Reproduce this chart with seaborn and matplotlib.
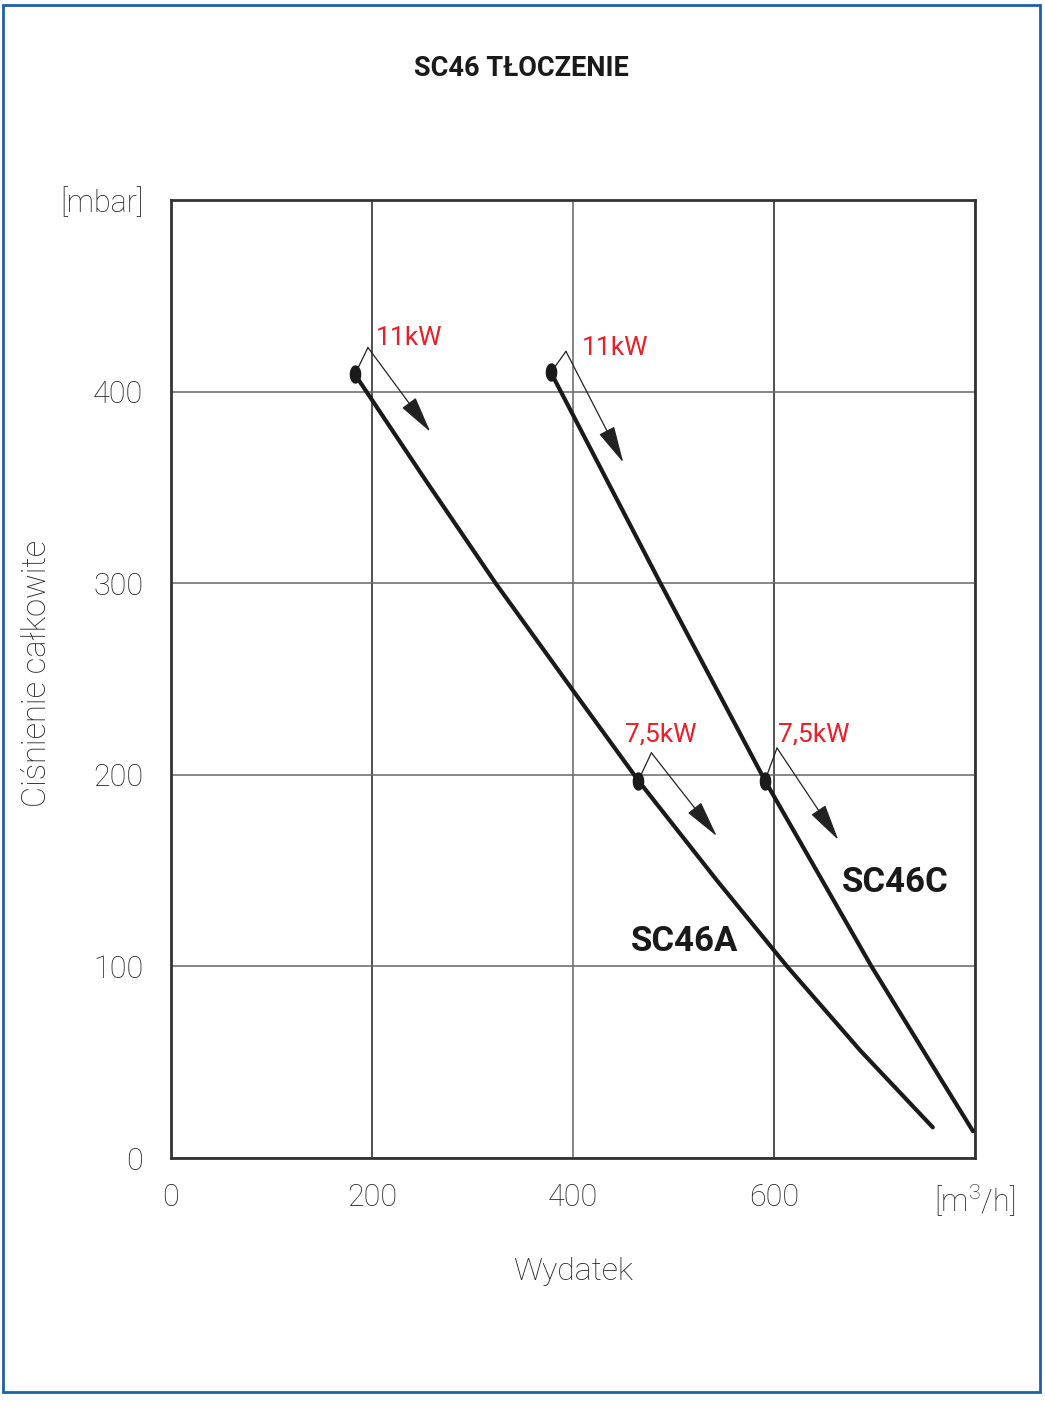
import numpy as np
import matplotlib
matplotlib.use('Agg')
import matplotlib.pyplot as plt
import seaborn as sns
import pandas as pd
from matplotlib.patches import Rectangle

# --- Data ---
sc46a_flow = [183, 253, 323, 400, 465, 543, 613, 686, 758]
sc46a_pressure = [409, 354, 300, 244, 197, 145, 100, 56, 16]
sc46c_flow = [378, 487, 591, 697, 765, 798]
sc46c_pressure = [410, 300, 197, 100, 42, 14]

# motor power switch points and their little arrows
power_labels = ['11kW', '11kW', '7,5kW', '7,5kW']
power_flow = [183, 378, 465, 591]
power_pressure = [409, 410, 197, 197]
apex_flow = [196, 393, 478, 603]
apex_pressure = [423, 421, 211.5, 214]
tip_flow = [258, 450, 543, 664]
tip_pressure = [379, 363, 168, 166]
label_flow = [204, 409, 452, 604]
label_pressure = [428, 423, 221, 221]

curve_names = ['SC46A', 'SC46C']
curve_name_flow = [458, 668]
curve_name_pressure = [113, 144]

x_ticks = [0, 200, 400, 600, 800]
x_tick_labels = ['0', '200', '400', '600', '[m$^3$/h]']
y_ticks = [0, 100, 200, 300, 400, 500]
y_tick_labels = ['0', '100', '200', '300', '400', '[mbar]']

df = pd.concat([
    pd.DataFrame({'Wydatek': sc46a_flow, 'Ciśnienie': sc46a_pressure, 'model': 'SC46A'}),
    pd.DataFrame({'Wydatek': sc46c_flow, 'Ciśnienie': sc46c_pressure, 'model': 'SC46C'}),
])

# --- Plot ---
sns.set_theme(style='white')
plt.rcParams['font.family'] = ['Roboto', 'DejaVu Sans']
plt.rcParams['mathtext.fontset'] = 'custom'
plt.rcParams['mathtext.rm'] = 'Roboto:light'

fig = plt.figure(figsize=(10.45, 14.15), dpi=100)
ax = fig.add_axes([171 / 1045, 1 - 1158 / 1415, 804 / 1045, 958 / 1415])

sns.lineplot(data=df, x='Wydatek', y='Ciśnienie', hue='model', sort=False,
             palette=['#1a1a1a', '#1a1a1a'], linewidth=3.0, legend=False, ax=ax, zorder=3)

ax.set_xlim(0, 800)
ax.set_ylim(0, 500)
ax.set_xticks(x_ticks)
ax.set_xticklabels(x_tick_labels)
ax.set_yticks(y_ticks)
ax.set_yticklabels(y_tick_labels)
ax.tick_params(length=0, labelsize=22, colors='#222222')
ax.tick_params(axis='x', pad=18)
ax.tick_params(axis='y', pad=20)
for lab in ax.get_xticklabels() + ax.get_yticklabels():
    lab.set_fontweight('light')
ax.set_xlabel('')
ax.set_ylabel('')

ax.grid(True, color='#666666', linewidth=1.1)
xgrid = ax.xaxis.get_gridlines()
for i, gl in enumerate(xgrid):
    if x_ticks[i] in (200, 600):
        gl.set_color('#222222')
for sp in ax.spines.values():
    sp.set_color('#333333')
    sp.set_linewidth(2.0)

fig.text(573 / 1045, 1 - 1272 / 1415, 'Wydatek', fontsize=23, fontweight='light',
         color='#222222', ha='center', va='center')
fig.text(37 / 1045, 1 - 673 / 1415, 'Ciśnienie całkowite', fontsize=23.5, fontweight='light',
         color='#222222', ha='center', va='center', rotation=90)

# power change markers (narrow ellipses)
t = np.linspace(0, 2 * np.pi, 40)
ellipse = np.column_stack([0.6 * np.cos(t), np.sin(t)])
ax.scatter(power_flow, power_pressure, marker=ellipse, s=150, color='#1a1a1a', zorder=5)

for i in range(len(power_labels)):
    ax.plot([power_flow[i], apex_flow[i]], [power_pressure[i], apex_pressure[i]],
            color='#222222', linewidth=0.9, zorder=4)
    ax.annotate('', xy=(tip_flow[i], tip_pressure[i]), xytext=(apex_flow[i], apex_pressure[i]),
                arrowprops=dict(arrowstyle='-|>,head_length=1.3,head_width=0.3',
                                color='#222222', lw=0.9, mutation_scale=18,
                                shrinkA=0, shrinkB=0), zorder=4)
    ax.text(label_flow[i], label_pressure[i], power_labels[i], color='#e8202a',
            fontsize=19, ha='left', va='center')

for name, fx, fy in zip(curve_names, curve_name_flow, curve_name_pressure):
    ax.text(fx, fy, name, fontsize=25, fontweight='bold', color='#1a1a1a',
            ha='left', va='center')

fig.text(521 / 1045, 1 - 68 / 1415, 'SC46 TŁOCZENIE', fontsize=19.5, fontweight='bold',
         color='#1a1a1a', ha='center', va='center')

# blue frame around the chart
fig.patches.append(Rectangle((3 / 1045, 1 - 1392 / 1415), 1037 / 1045, 1387 / 1415,
                             transform=fig.transFigure, fill=False,
                             edgecolor='#1f5fa8', linewidth=2.0))

fig.savefig('out.png', dpi=100, facecolor='white')
